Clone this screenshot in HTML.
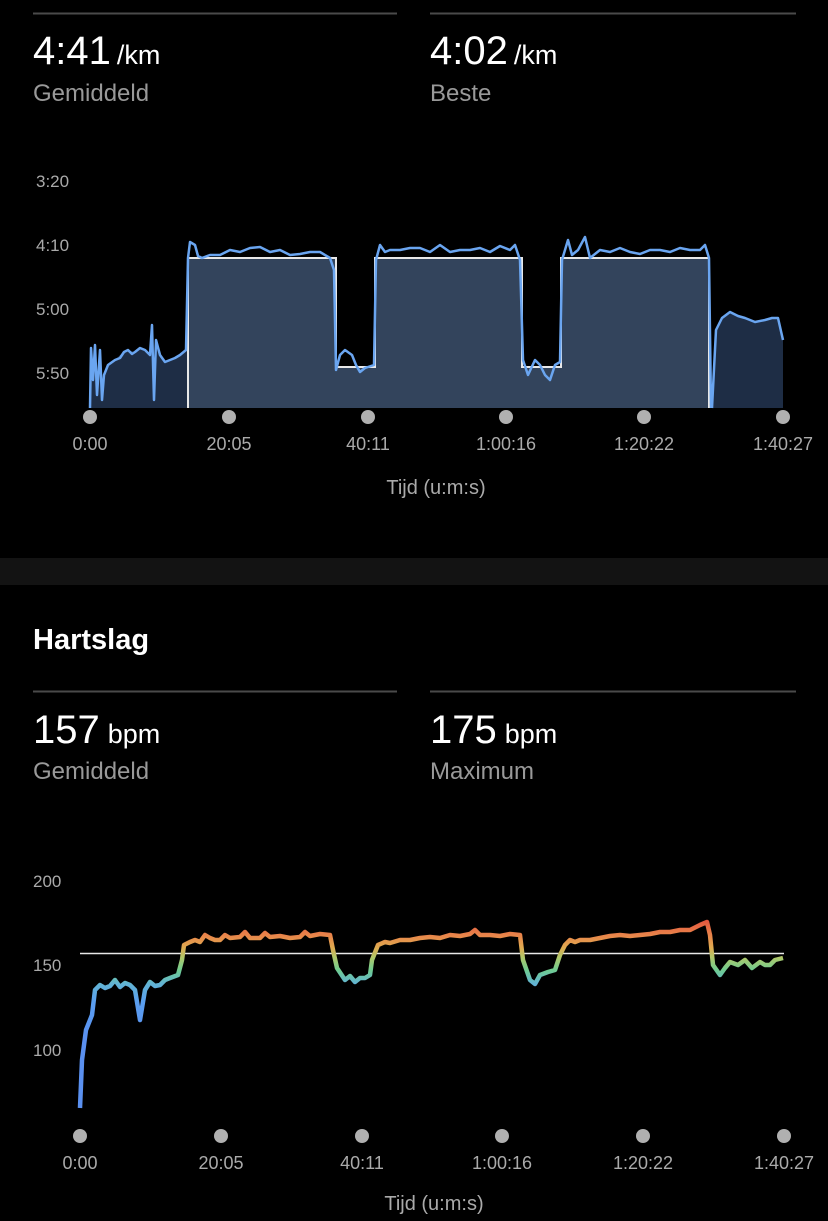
<!DOCTYPE html>
<html><head><meta charset="utf-8"><style>
html,body{margin:0;padding:0;background:#000;width:828px;height:1221px;overflow:hidden}
svg{display:block}
text{font-family:"Liberation Sans",sans-serif}
</style></head><body>
<svg width="828" height="1221" viewBox="0 0 828 1221" xmlns="http://www.w3.org/2000/svg">
<defs>
<linearGradient id="hr" gradientUnits="userSpaceOnUse" x1="0" y1="915" x2="0" y2="1040">
<stop offset="0" stop-color="#e2453a"/>
<stop offset="0.16" stop-color="#e8844a"/>
<stop offset="0.26" stop-color="#e0aa50"/>
<stop offset="0.34" stop-color="#b0c86a"/>
<stop offset="0.44" stop-color="#70cc90"/>
<stop offset="0.55" stop-color="#62b4d4"/>
<stop offset="0.7" stop-color="#5a9ef0"/>
<stop offset="1" stop-color="#5a90f0"/>
</linearGradient>
</defs>
<rect width="828" height="1221" fill="#000"/>
<line x1="33" y1="13.5" x2="397" y2="13.5" stroke="#4a4a4a" stroke-width="2"/>
<line x1="430" y1="13.5" x2="796" y2="13.5" stroke="#4a4a4a" stroke-width="2"/>
<text x="33" y="64" fill="#fff" font-size="40">4:41<tspan font-size="27" dx="6">/km</tspan></text>
<text x="33" y="101" fill="#999" font-size="24">Gemiddeld</text>
<text x="430" y="64" fill="#fff" font-size="40">4:02<tspan font-size="27" dx="6">/km</tspan></text>
<text x="430" y="101" fill="#999" font-size="24">Beste</text>
<g fill="#aaa" font-size="17">
<text x="36" y="187">3:20</text><text x="36" y="251">4:10</text><text x="36" y="315">5:00</text><text x="36" y="379">5:50</text>
</g>
<path d="M90,408 L91,348 93,380 95,345 97,395 100,350 102,400 104,375 108,365 115,360 120,355 128,350 135,352 140,348 145,350 150,355 152,325 154,400 156,340 160,355 165,362 170,360 175,358 180,355 186,350 188,258 L188,408 Z" fill="#1e2d45"/>
<path d="M188,408 L188,258 336,258 336,367 375,367 375,258 522,258 522,367 561,367 561,258 709,258 709,408 Z" fill="#33445c"/>
<path d="M711,408 L712,408 716,330 722,318 730,312 738,316 745,318 755,322 765,320 772,318 778,318 783,340 783,408 Z" fill="#1e2d45"/>
<path d="M188,258 L188,408 M188,258 L336,258 336,367 375,367 375,258 522,258 522,367 561,367 561,258 709,258 709,408" fill="none" stroke="#e8e8e8" stroke-width="2"/>
<path d="M90,408 L91,348 93,380 95,345 97,395 100,350 102,400 104,375 108,365 115,360 120,358 124,352 128,350 132,354 135,352 140,348 145,350 150,355 152,325 154,400 156,340 160,355 165,362 170,360 175,358 180,355 186,350 188,258 190,242 195,245 198,256 202,258 210,255 220,255 230,250 240,252 250,248 260,247 270,252 280,250 290,255 300,254 310,252 320,252 330,258 334,270 336,370 340,355 345,350 352,355 356,365 360,372 365,368 374,365 376,260 380,245 385,252 390,250 400,250 410,248 420,248 430,252 440,245 450,252 460,250 470,250 480,248 490,252 500,246 510,250 515,245 520,260 523,360 528,375 535,360 540,365 545,375 550,380 555,365 560,362 562,260 568,240 572,255 578,250 585,237 590,258 600,250 610,252 620,248 630,252 640,254 650,250 660,250 670,252 680,248 690,250 700,250 705,245 709,258 711,408 M712,408 L716,330 722,318 730,312 738,316 745,318 755,322 765,320 772,318 778,318 783,340" fill="none" stroke="#6aa5f0" stroke-width="2.5" stroke-linejoin="round"/>
<g fill="#b0b0b0">
<circle cx="90" cy="417" r="7"/><circle cx="229" cy="417" r="7"/><circle cx="368" cy="417" r="7"/><circle cx="506" cy="417" r="7"/><circle cx="644" cy="417" r="7"/><circle cx="783" cy="417" r="7"/>
</g>
<g fill="#aaa" font-size="18" text-anchor="middle">
<text x="90" y="450">0:00</text><text x="229" y="450">20:05</text><text x="368" y="450">40:11</text><text x="506" y="450">1:00:16</text><text x="644" y="450">1:20:22</text><text x="783" y="450">1:40:27</text>
<text x="436" y="494" font-size="20">Tijd (u:m:s)</text>
</g>
<rect x="0" y="558" width="828" height="27" fill="#131313"/>
<text x="33" y="649" fill="#fff" font-size="29" font-weight="bold">Hartslag</text>
<line x1="33" y1="691.5" x2="397" y2="691.5" stroke="#4a4a4a" stroke-width="2"/>
<line x1="430" y1="691.5" x2="796" y2="691.5" stroke="#4a4a4a" stroke-width="2"/>
<text x="33" y="743" fill="#fff" font-size="40">157<tspan font-size="27" dx="8">bpm</tspan></text>
<text x="33" y="779" fill="#999" font-size="24">Gemiddeld</text>
<text x="430" y="743" fill="#fff" font-size="40">175<tspan font-size="27" dx="8">bpm</tspan></text>
<text x="430" y="779" fill="#999" font-size="24">Maximum</text>
<g fill="#aaa" font-size="17">
<text x="33" y="887">200</text><text x="33" y="971">150</text><text x="33" y="1056">100</text>
</g>
<line x1="80" y1="953.5" x2="784" y2="953.5" stroke="#e8e8e8" stroke-width="1.5"/>
<path d="M80,1108 L82,1060 86,1030 92,1015 95,990 100,985 105,988 110,986 115,980 120,987 125,983 130,985 135,990 140,1020 145,990 150,982 155,986 160,985 165,980 170,978 178,975 182,960 184,945 190,942 195,940 200,942 205,935 210,938 215,940 220,940 225,935 230,938 240,937 245,932 250,938 260,938 265,933 270,937 280,936 290,938 300,937 305,932 310,936 320,934 330,935 333,950 337,968 345,980 350,976 355,982 360,978 365,978 370,975 372,960 378,945 385,942 390,943 400,940 410,940 420,938 430,937 440,938 450,935 460,936 470,934 475,930 480,935 490,935 500,936 510,934 520,935 523,960 530,980 535,984 540,975 548,972 555,970 560,955 565,945 570,940 575,942 580,940 590,940 600,938 610,936 620,935 630,936 640,935 650,934 660,932 670,932 680,930 690,930 700,925 707,922 710,935 713,965 720,975 725,968 730,962 738,965 745,960 752,968 760,962 765,965 770,965 775,960 783,958" fill="none" stroke="url(#hr)" stroke-width="4.5" stroke-linejoin="round"/>
<g fill="#b0b0b0">
<circle cx="80" cy="1136" r="7"/><circle cx="221" cy="1136" r="7"/><circle cx="362" cy="1136" r="7"/><circle cx="502" cy="1136" r="7"/><circle cx="643" cy="1136" r="7"/><circle cx="784" cy="1136" r="7"/>
</g>
<g fill="#aaa" font-size="18" text-anchor="middle">
<text x="80" y="1169">0:00</text><text x="221" y="1169">20:05</text><text x="362" y="1169">40:11</text><text x="502" y="1169">1:00:16</text><text x="643" y="1169">1:20:22</text><text x="784" y="1169">1:40:27</text>
<text x="434" y="1210" font-size="20">Tijd (u:m:s)</text>
</g>
</svg>
</body></html>
